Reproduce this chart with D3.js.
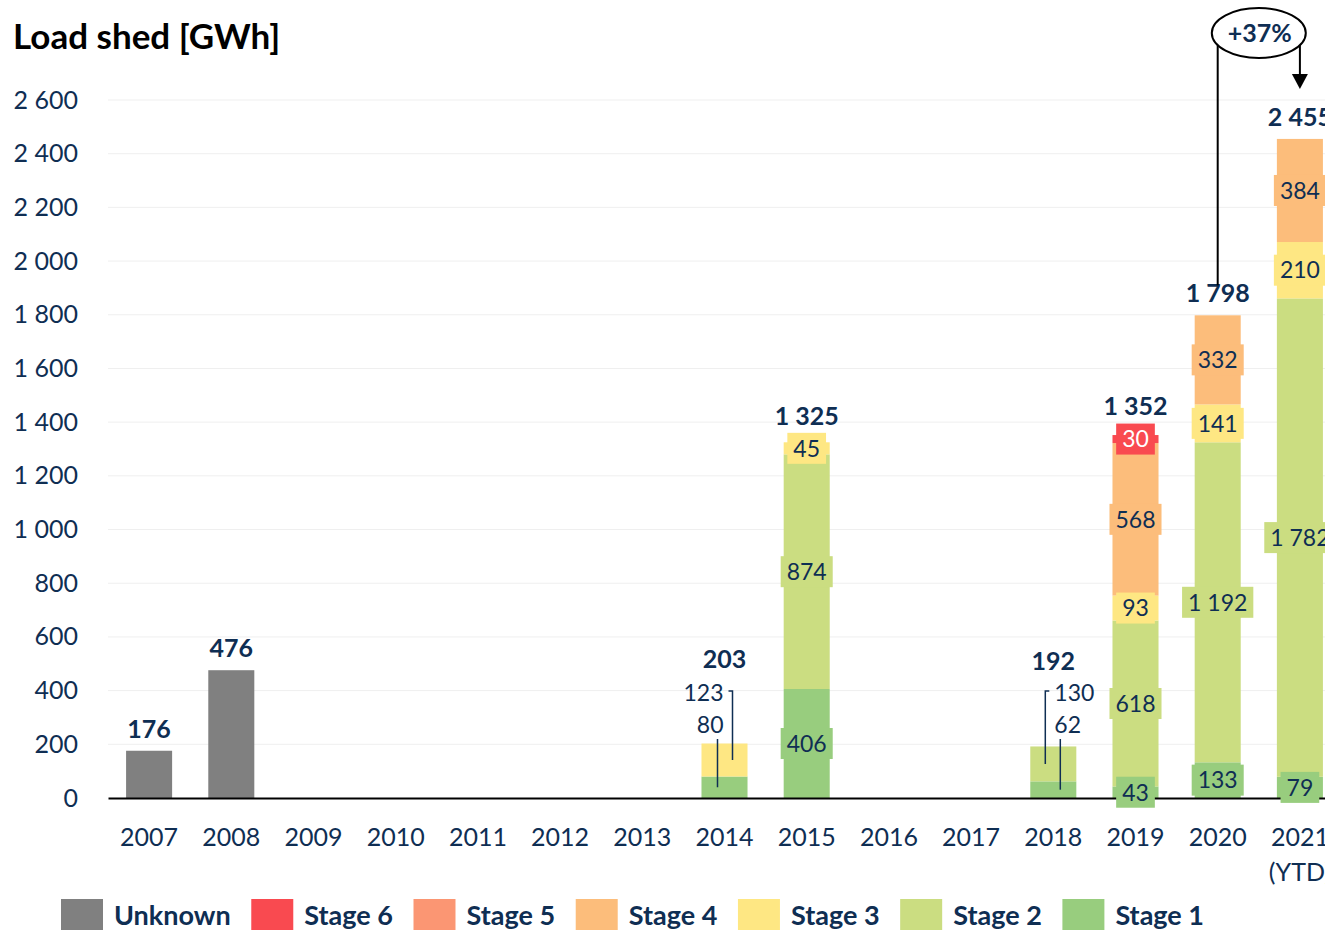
<!DOCTYPE html>
<html>
<head>
<meta charset="utf-8">
<script src="https://cdn.jsdelivr.net/npm/d3@7"></script>
<style>
  body { margin: 0; background: #fff; }
  svg text { font-family: Lato, "Open Sans", sans-serif; }
</style>
</head>
<body>
<div id="plot"></div>
<script>
// values, in GWh
var years    = ["2007","2008","2009","2010","2011","2012","2013","2014","2015","2016","2017","2018","2019","2020","2021"];
var subLabel = ["","","","","","","","","","","","","","","(YTD)"];
var unknown  = [176, 476, 0, 0, 0, 0, 0, 0, 0, 0, 0, 0, 0, 0, 0];
var stage6   = [0, 0, 0, 0, 0, 0, 0, 0, 0, 0, 0, 0, 30, 0, 0];
var stage5   = [0, 0, 0, 0, 0, 0, 0, 0, 0, 0, 0, 0, 0, 0, 0];
var stage4   = [0, 0, 0, 0, 0, 0, 0, 0, 0, 0, 0, 0, 568, 332, 384];
var stage3   = [0, 0, 0, 0, 0, 0, 0, 123, 45, 0, 0, 0, 93, 141, 210];
var stage2   = [0, 0, 0, 0, 0, 0, 0, 0, 874, 0, 0, 130, 618, 1192, 1782];
var stage1   = [0, 0, 0, 0, 0, 0, 0, 80, 406, 0, 0, 62, 43, 133, 79];
var yTicks   = [0, 200, 400, 600, 800, 1000, 1200, 1400, 1600, 1800, 2000, 2200, 2400, 2600];

var legendNames = ["Unknown", "Stage 6", "Stage 5", "Stage 4", "Stage 3", "Stage 2", "Stage 1"];
var colors = {
  "Unknown": "#808080",
  "Stage 6": "#f94a50",
  "Stage 5": "#fb9673",
  "Stage 4": "#fcbd7b",
  "Stage 3": "#fee783",
  "Stage 2": "#cbdd81",
  "Stage 1": "#98cd7e"
};
var navy = "#0f2e53";

var seriesVals = {
  "Unknown": unknown, "Stage 6": stage6, "Stage 5": stage5, "Stage 4": stage4,
  "Stage 3": stage3, "Stage 2": stage2, "Stage 1": stage1
};
var stackKeys = ["Stage 1", "Stage 2", "Stage 3", "Stage 4", "Stage 5", "Stage 6", "Unknown"];

var table = years.map(function(yr, i) {
  var row = {year: yr};
  stackKeys.forEach(function(k) { row[k] = seriesVals[k][i]; });
  row.total = d3.sum(stackKeys, function(k) { return row[k]; });
  return row;
});

var calloutSide = {"2014": -1, "2018": 1};      // small bars labelled outside
var totalLift = {"2014": 76, "2018": 76, "2015": 17, "2019": 20};

var W = 1325, H = 930;
var fmt = d3.formatLocale({decimal: ".", thousands: " ", grouping: [3], currency: ["", ""]}).format(",d");

var svg = d3.select("#plot").append("svg")
  .attr("width", W).attr("height", H);

var x = d3.scaleBand()
  .domain(years)
  .range([108, 1341])
  .paddingInner(0.44)
  .paddingOuter(0.22);

var y = d3.scaleLinear()
  .domain([0, 2600])
  .range([798, 100]);

// title
svg.append("text")
  .attr("x", 13).attr("y", 49)
  .attr("font-size", 35).attr("font-weight", 700)
  .attr("fill", "#000")
  .text("Load shed [GWh]");

// gridlines
svg.append("g").selectAll("line")
  .data(yTicks.filter(function(d) { return d > 0; }))
  .enter().append("line")
  .attr("x1", 108).attr("x2", W)
  .attr("y1", function(d) { return y(d); })
  .attr("y2", function(d) { return y(d); })
  .attr("stroke", "#efefef").attr("stroke-width", 1);

// y axis labels
var yAxis = svg.append("g")
  .attr("transform", "translate(78,0)")
  .call(d3.axisLeft(y).tickValues(yTicks).tickFormat(fmt).tickSize(0).tickPadding(0));
yAxis.select(".domain").remove();
yAxis.selectAll("text").attr("font-size", 25).attr("fill", navy)
  .style("font-family", "Lato, 'Open Sans', sans-serif");

// stacked bars
var stacked = d3.stack().keys(stackKeys)(table);

var layers = svg.append("g").selectAll("g")
  .data(stacked)
  .enter().append("g")
  .attr("fill", function(d) { return colors[d.key]; });

layers.selectAll("rect")
  .data(function(d) { return d; })
  .enter().append("rect")
  .attr("x", function(d) { return x(d.data.year); })
  .attr("width", x.bandwidth())
  .attr("y", function(d) { return y(d[1]); })
  .attr("height", function(d) { return y(d[0]) - y(d[1]); });

// x axis
var xAxis = svg.append("g")
  .attr("transform", "translate(0,798)")
  .call(d3.axisBottom(x).tickSize(0).tickSizeOuter(0).tickPadding(30));
xAxis.select(".domain").attr("stroke", "#000").attr("stroke-width", 2);
xAxis.selectAll("text").attr("font-size", 25).attr("fill", navy)
  .style("font-family", "Lato, 'Open Sans', sans-serif");
xAxis.selectAll(".tick").each(function(d, i) {
  if (subLabel[i]) {
    d3.select(this).select("text").append("tspan")
      .attr("x", 0).attr("dy", "1.4em").text(subLabel[i]);
  }
});

// labels inside segments (with a filled box behind, like the data label fill)
var inLabels = [];
stacked.forEach(function(layer) {
  if (layer.key === "Unknown") return;
  layer.forEach(function(d) {
    var v = d[1] - d[0];
    if (v > 0 && !(d.data.year in calloutSide)) {
      inLabels.push({key: layer.key, year: d.data.year, v: v, mid: (d[0] + d[1]) / 2});
    }
  });
});

var lab = svg.append("g").selectAll("g")
  .data(inLabels)
  .enter().append("g")
  .attr("transform", function(d) {
    return "translate(" + (x(d.year) + x.bandwidth() / 2) + "," + y(d.mid) + ")";
  });
lab.append("rect").attr("fill", function(d) { return colors[d.key]; });
lab.append("text")
  .attr("text-anchor", "middle")
  .attr("dy", "0.36em")
  .attr("font-size", 23)
  .attr("fill", function(d) { return d.key === "Stage 6" ? "#fff" : navy; })
  .text(function(d) { return fmt(d.v); });
lab.each(function() {
  var g = d3.select(this);
  var w = g.select("text").node().getComputedTextLength() + 12;
  g.select("rect").attr("x", -w / 2).attr("y", -15.5).attr("width", w).attr("height", 31);
});

// callouts for the small bars
table.forEach(function(row) {
  if (!(row.year in calloutSide)) return;
  var s = calloutSide[row.year];
  var cx = x(row.year) + x.bandwidth() / 2;
  var y0 = y(0);
  var segs = stackKeys.map(function(k, j) {
    var base = d3.sum(stackKeys.slice(0, j), function(q) { return row[q]; });
    return {v: row[k], mid: base + row[k] / 2};
  }).filter(function(d) { return d.v > 0; });
  var top = segs[segs.length - 1], bot = segs[0];
  var g = svg.append("g");
  var tx = cx + s * 1, anchor = s < 0 ? "end" : "start";
  g.append("text").attr("x", tx).attr("y", y0 - 97)
    .attr("text-anchor", anchor).attr("font-size", 23).attr("fill", navy)
    .text(fmt(top.v));
  g.append("text").attr("x", tx).attr("y", y0 - 65)
    .attr("text-anchor", anchor).attr("font-size", 23).attr("fill", navy)
    .text(fmt(bot.v));
  g.append("path")
    .attr("d", "M" + (cx - s * 4) + "," + (y0 - 107) + "H" + (cx - s * 8) + "V" + y(top.mid))
    .attr("fill", "none").attr("stroke", navy).attr("stroke-width", 1.5);
  g.append("line")
    .attr("x1", cx + s * 7).attr("x2", cx + s * 7)
    .attr("y1", y0 - 59).attr("y2", y(bot.mid))
    .attr("stroke", navy).attr("stroke-width", 1.5);
});

// totals
svg.append("g").selectAll("text")
  .data(table.filter(function(d) { return d.total > 0; }))
  .enter().append("text")
  .attr("x", function(d) { return x(d.year) + x.bandwidth() / 2; })
  .attr("y", function(d) { return y(d.total) - (totalLift[d.year] || 13); })
  .attr("text-anchor", "middle")
  .attr("font-size", 25).attr("font-weight", 700).attr("fill", navy)
  .text(function(d) { return fmt(d.total); });

// growth annotation 2020 -> 2021
var a = table[13], b = table[14];
var ax = x(a.year) + x.bandwidth() / 2, bx = x(b.year) + x.bandwidth() / 2;
var ecx = (ax + bx) / 2, ecy = 33, rx = 47, ry = 25;
var pct = Math.round((b.total / a.total - 1) * 100);
var edgeY = function(px) { return ecy + ry * Math.sqrt(Math.max(0, 1 - Math.pow((px - ecx) / rx, 2))); };

svg.append("ellipse")
  .attr("cx", ecx).attr("cy", ecy).attr("rx", rx).attr("ry", ry)
  .attr("fill", "#fff").attr("stroke", "#000").attr("stroke-width", 2);
svg.append("text")
  .attr("x", ecx + 1).attr("y", ecy + 9)
  .attr("text-anchor", "middle")
  .attr("font-size", 25).attr("font-weight", 700).attr("fill", navy)
  .text("+" + pct + "%");
svg.append("line")
  .attr("x1", ax).attr("x2", ax)
  .attr("y1", edgeY(ax)).attr("y2", y(a.total) - 30)
  .attr("stroke", "#000").attr("stroke-width", 2);
var tipY = y(b.total) - 50;
svg.append("line")
  .attr("x1", bx).attr("x2", bx)
  .attr("y1", edgeY(bx)).attr("y2", tipY - 14)
  .attr("stroke", "#000").attr("stroke-width", 2);
svg.append("path")
  .attr("d", "M" + (bx - 8) + "," + (tipY - 15) + "L" + (bx + 8) + "," + (tipY - 15) + "L" + bx + "," + tipY + "Z")
  .attr("fill", "#000");

// legend, laid out left to right by text width
var leg = svg.append("g").attr("transform", "translate(61,899)");
var lx = 0;
legendNames.forEach(function(name) {
  var item = leg.append("g").attr("transform", "translate(" + lx + ",0)");
  item.append("rect")
    .attr("width", 42).attr("height", 32)
    .attr("fill", colors[name]);
  var t = item.append("text")
    .attr("x", 53).attr("y", 26)
    .attr("font-size", 27).attr("font-weight", 700).attr("fill", navy)
    .text(name);
  lx += 53 + t.node().getComputedTextLength() + 20.6;
});
</script>
</body>
</html>
